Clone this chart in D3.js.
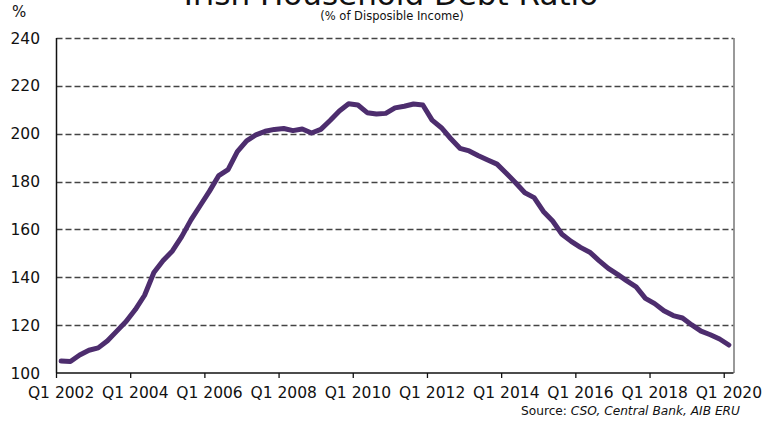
<!DOCTYPE html>
<html>
<head>
<meta charset="utf-8">
<script src="https://cdn.jsdelivr.net/npm/d3@7"></script>
<style>
  html, body { margin: 0; padding: 0; background: #fff; }
  svg { display: block; font-family: "DejaVu Sans", sans-serif; }
</style>
</head>
<body>
<svg id="chart" width="768" height="421"></svg>
<script>
// ---- data ----
const quarters = [];
for (let yr = 2002; yr <= 2020; yr++) {
  for (let q = 1; q <= 4; q++) {
    if (yr === 2020 && q > 1) break;
    quarters.push("Q" + q + " " + yr);
  }
}
const debtRatio = [
  105, 104.8, 107.5, 109.5, 110.5, 113.5, 117.5, 121.5,
  126.5, 132.5, 142, 147, 151, 157, 164, 170,
  176, 182.5, 185, 192.5, 197, 199.5, 201, 201.8,
  202.2, 201.3, 202, 200.3, 201.8, 205.5, 209.5, 212.5,
  212, 208.8, 208.2, 208.5, 210.8, 211.5, 212.4, 212,
  205.7, 202.5, 198, 193.9, 192.8, 190.8, 189, 187.3,
  183.5, 179.5, 175.3, 173.3, 167.5, 163.5, 158, 155,
  152.5, 150.5, 147, 143.7, 141.2, 138.5, 136, 131.2,
  129, 126, 124, 123, 120.1, 117.5, 116, 114.2,
  111.7
];
const yTicks = [100, 120, 140, 160, 180, 200, 220, 240];
const xTickLabels = ["Q1 2002","Q1 2004","Q1 2006","Q1 2008","Q1 2010","Q1 2012","Q1 2014","Q1 2016","Q1 2018","Q1 2020"];

const titleText = "Irish Household Debt Ratio";
const subtitleText = "(% of Disposible Income)";

// ---- layout ----
const svg = d3.select("#chart");
const mLeft = 56.5, mRight = 733.5, mTop = 38, mBottom = 373;

const x = d3.scaleBand().domain(quarters).range([mLeft, mRight]).padding(0);
const y = d3.scaleLinear().domain([100, 240]).range([mBottom, mTop]);

// gridlines
svg.append("g").selectAll("line")
  .data(yTicks.filter(d => d > 100))
  .join("line")
  .attr("x1", mLeft).attr("x2", mRight)
  .attr("y1", d => Math.round(y(d)) + 0.5).attr("y2", d => Math.round(y(d)) + 0.5)
  .attr("stroke", "#444").attr("stroke-width", 1.3)
  .attr("stroke-dasharray", "6,3");

// right border
svg.append("line")
  .attr("x1", mRight + 0.5).attr("x2", mRight + 0.5)
  .attr("y1", mTop).attr("y2", mBottom)
  .attr("stroke", "#777").attr("stroke-width", 1.5);

// left axis line
svg.append("line")
  .attr("x1", mLeft).attr("x2", mLeft)
  .attr("y1", mTop).attr("y2", mBottom)
  .attr("stroke", "#111").attr("stroke-width", 1.5);

// y tick labels
svg.append("g").selectAll("text")
  .data(yTicks)
  .join("text")
  .attr("x", 40).attr("y", d => y(d))
  .attr("dy", "0.36em")
  .attr("text-anchor", "end")
  .attr("font-size", 15.5)
  .attr("fill", "#111")
  .text(d => d);

// bottom axis
const tickIdx = quarters.map((q, i) => i).filter(i => i % 8 === 0);
svg.append("line")
  .attr("x1", mLeft).attr("x2", mRight)
  .attr("y1", mBottom).attr("y2", mBottom)
  .attr("stroke", "#111").attr("stroke-width", 1.5);
svg.append("g").selectAll("line")
  .data(tickIdx)
  .join("line")
  .attr("x1", i => x(quarters[i])).attr("x2", i => x(quarters[i]))
  .attr("y1", mBottom).attr("y2", mBottom + 5)
  .attr("stroke", "#111").attr("stroke-width", 1.3);
svg.append("g").selectAll("text")
  .data(tickIdx)
  .join("text")
  .attr("x", i => x(quarters[i]) + x.bandwidth() / 2)
  .attr("y", 398)
  .attr("text-anchor", "middle")
  .attr("font-size", 15.5)
  .attr("fill", "#111")
  .text((i, k) => xTickLabels[k]);

// line
const line = d3.line()
  .x((d, i) => x(quarters[i]) + x.bandwidth() / 2)
  .y(d => y(d));
svg.append("path")
  .datum(debtRatio)
  .attr("d", line)
  .attr("fill", "none")
  .attr("stroke", "#4d2d6e")
  .attr("stroke-width", 5)
  .attr("stroke-linejoin", "round")
  .attr("stroke-linecap", "round");

// title (partly clipped at top, as in reference)
svg.append("text")
  .attr("x", 391).attr("y", 5)
  .attr("text-anchor", "middle")
  .attr("font-size", 31)
  .attr("fill", "#111")
  .text(titleText);

svg.append("text")
  .attr("x", 392).attr("y", 19.5)
  .attr("text-anchor", "middle")
  .attr("font-size", 11.5)
  .attr("fill", "#111")
  .text(subtitleText);

svg.append("text")
  .attr("x", 12).attr("y", 17)
  .attr("font-size", 15)
  .attr("fill", "#111")
  .text("%");

// source
const src = svg.append("text")
  .attr("x", 740).attr("y", 415)
  .attr("text-anchor", "end")
  .attr("font-size", 12.2)
  .attr("fill", "#111");
src.append("tspan").text("Source: ");
src.append("tspan").attr("font-style", "italic").text("CSO, Central Bank, AIB ERU");
</script>
</body>
</html>
